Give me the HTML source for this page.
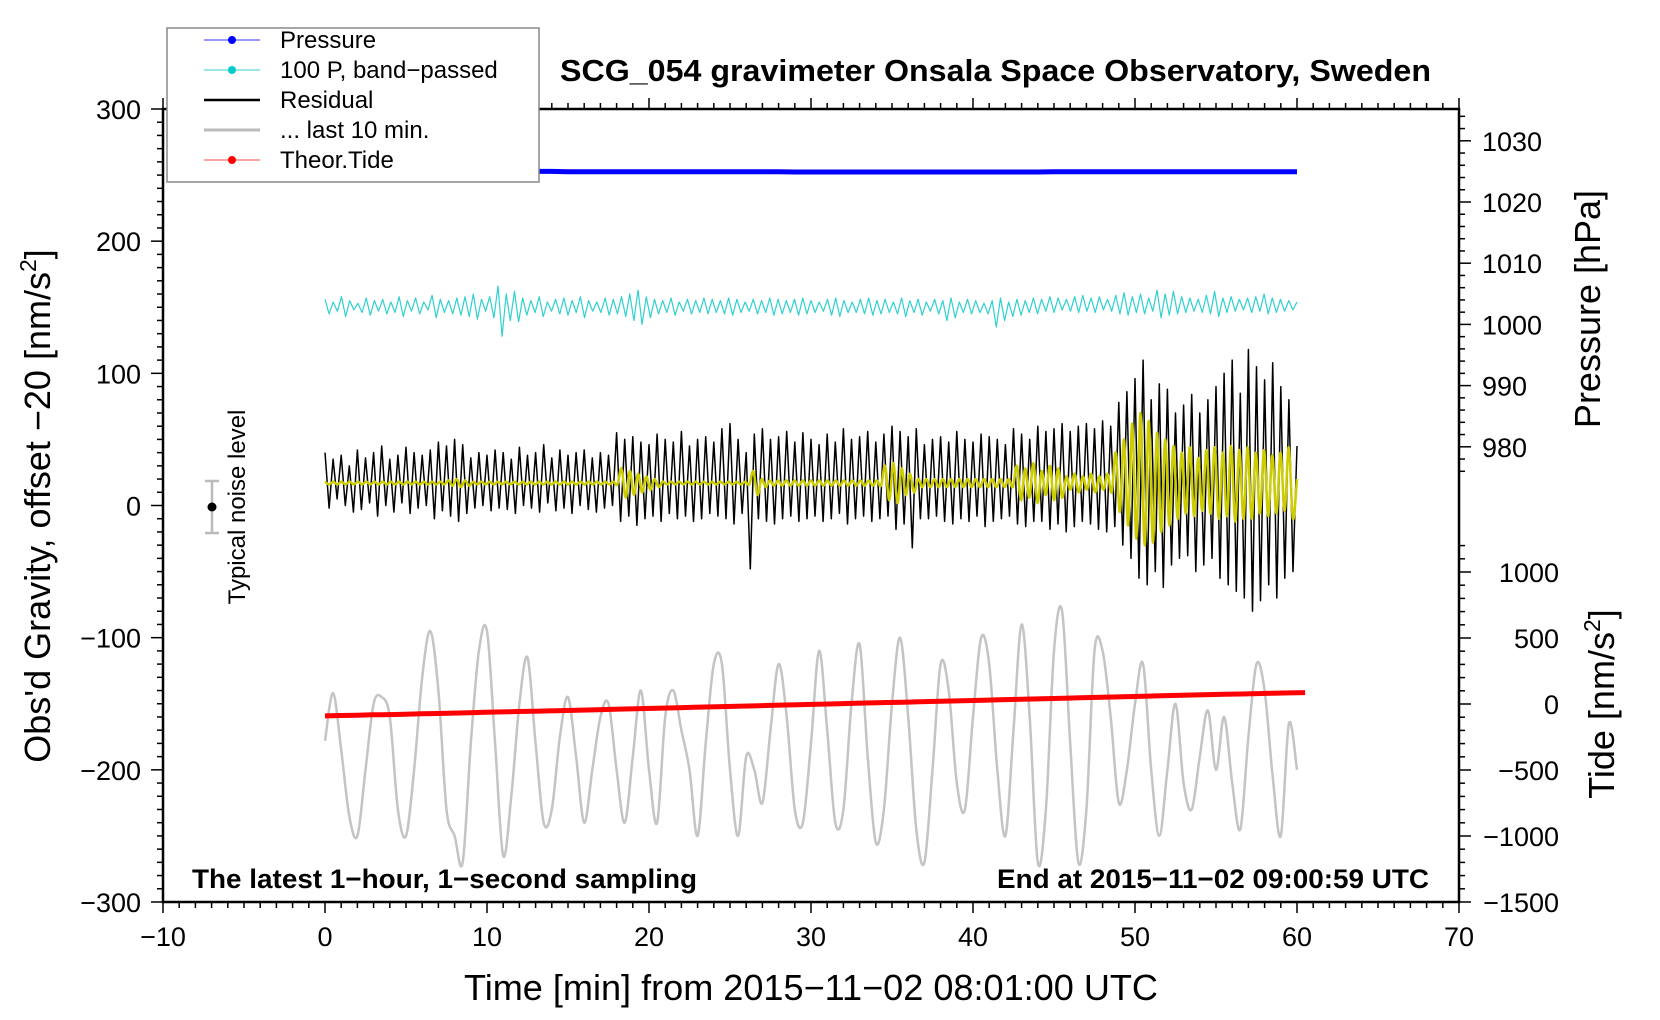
<!DOCTYPE html>
<html><head><meta charset="utf-8"><style>
html,body{margin:0;padding:0;background:#fff;}
svg{display:block;font-family:"Liberation Sans",sans-serif;}
</style></head><body>
<svg id="chart" width="1660" height="1020" viewBox="0 0 1660 1020" xmlns="http://www.w3.org/2000/svg">
<rect x="0" y="0" width="1660" height="1020" fill="#fff"/>
<g id="ticks"></g>
<g id="series"></g>
<rect x="163" y="109" width="1296" height="793" fill="none" stroke="#000" stroke-width="2.5"/>
<text x="560" y="81" font-size="31" font-weight="bold" textLength="871" lengthAdjust="spacingAndGlyphs">SCG_054 gravimeter Onsala Space Observatory, Sweden</text>
<text x="192" y="888" font-size="27" font-weight="bold" textLength="505" lengthAdjust="spacingAndGlyphs">The latest 1−hour, 1−second sampling</text>
<text x="997" y="888" font-size="27" font-weight="bold" textLength="432" lengthAdjust="spacingAndGlyphs">End at 2015−11−02 09:00:59 UTC</text>
<text x="464" y="1000" font-size="36" textLength="694" lengthAdjust="spacingAndGlyphs">Time [min] from 2015−11−02 08:01:00 UTC</text>
<text transform="translate(50,506) rotate(-90)" font-size="36" text-anchor="middle">Obs'd Gravity, offset −20 [nm/s<tspan font-size="23" dy="-14">2</tspan><tspan dy="14">]</tspan></text>
<text transform="translate(1600,309) rotate(-90)" font-size="36" text-anchor="middle">Pressure [hPa]</text>
<text transform="translate(1614,704) rotate(-90)" font-size="36" text-anchor="middle">Tide [nm/s<tspan font-size="23" dy="-14">2</tspan><tspan dy="14">]</tspan></text>
<g>
<line x1="212" y1="481" x2="212" y2="533" stroke="#bbb" stroke-width="2.5"/>
<line x1="205" y1="481" x2="219" y2="481" stroke="#bbb" stroke-width="2.5"/>
<line x1="205" y1="533" x2="219" y2="533" stroke="#bbb" stroke-width="2.5"/>
<circle cx="212" cy="507" r="4.5" fill="#000"/>
<text transform="translate(245,507) rotate(-90)" font-size="24" text-anchor="middle">Typical noise level</text>
</g>
<g>
<rect x="167" y="28" width="372" height="154" fill="#fff" stroke="#888" stroke-width="1.5"/>
<g><line x1="204" y1="40" x2="260" y2="40" stroke="#3333ff" stroke-width="1"/><circle cx="232" cy="40" r="4" fill="#0000ff"/><text x="280" y="48" font-size="24">Pressure</text></g>
<g><line x1="204" y1="70" x2="260" y2="70" stroke="#30d0d0" stroke-width="1"/><circle cx="232" cy="70" r="4" fill="#00cccc"/><text x="280" y="78" font-size="24">100 P, band−passed</text></g>
<g><line x1="204" y1="100" x2="260" y2="100" stroke="#000" stroke-width="2.5"/><text x="280" y="108" font-size="24">Residual</text></g>
<g><line x1="204" y1="130" x2="260" y2="130" stroke="#bbb" stroke-width="3"/><text x="280" y="138" font-size="24">... last 10 min.</text></g>
<g><line x1="204" y1="160" x2="260" y2="160" stroke="#ff4444" stroke-width="1"/><circle cx="232" cy="160" r="4" fill="#ff0000"/><text x="280" y="168" font-size="24">Theor.Tide</text></g>
</g>
</svg>
<script>
const xTicks=[-10,0,10,20,30,40,50,60,70];
const yTicks=[300,200,100,0,-100,-200,-300];
const pTicks=[980,990,1000,1010,1020,1030];
const tTicks=[1000,500,0,-500,-1000,-1500];
const residual=[40,-2,35,5,38,0,30,-5,42,-3,36,2,40,-8,45,0,35,-5,38,2,44,-6,40,-2,38,0,42,-10,48,-4,45,-8,50,-12,46,-6,36,-2,40,0,38,-4,42,-2,40,-3,35,-6,44,0,38,-2,40,-5,46,2,36,-4,42,-2,38,-6,40,0,42,-3,36,-5,40,-2,38,0,55,-12,50,-8,52,-15,48,-10,46,-8,54,-12,50,-6,48,-10,56,-8,45,-12,50,-10,52,-6,48,-8,58,-10,62,-14,50,-6,40,-48,54,-10,58,-12,50,-14,52,-10,56,-8,48,-12,55,-10,50,-8,46,-12,54,-10,48,-6,58,-14,50,-10,52,-8,56,-12,48,-10,54,-8,60,-18,56,-14,52,-32,58,-10,46,-10,50,-8,52,-12,48,-14,56,-10,50,-12,48,-8,54,-16,52,-12,50,-10,46,-8,58,-14,54,-16,50,-12,60,-12,56,-18,58,-14,62,-20,56,-16,60,-12,62,-14,58,-18,64,-20,60,-16,78,-30,86,-40,96,-55,110,-60,80,-50,92,-62,88,-45,70,-40,76,-38,84,-50,70,-45,80,-40,90,-55,100,-60,110,-65,85,-70,118,-80,105,-72,95,-60,108,-70,90,-55,80,-50,45];
const filtered=[18,16,18,16,18,16,18,16,18,16,18,16,18,16,18,16,18,16,18,16,18,16,18,16,18,16,18,16,18,16,19,15,20,14,19,15,18,16,18,16,18,16,18,16,18,16,18,16,18,16,18,16,18,16,18,16,18,16,18,16,18,16,18,16,18,16,18,16,18,16,18,16,28,6,26,8,24,10,22,12,20,14,18,16,18,16,18,16,18,16,18,16,18,16,18,16,18,16,18,16,18,16,18,16,26,8,20,14,19,15,19,15,19,15,19,15,19,15,19,15,19,15,19,15,19,15,19,15,19,15,19,15,19,15,19,15,30,4,32,2,28,8,24,10,20,14,20,14,20,14,20,14,20,14,20,14,20,14,20,14,20,14,20,14,20,14,20,14,30,4,28,6,32,2,26,8,30,4,28,6,22,12,24,10,22,12,24,10,22,12,24,10,40,-5,50,-15,62,-25,70,-30,64,-28,55,-20,50,-15,45,-10,40,-6,44,-8,36,-4,42,-6,44,-10,40,-8,45,-12,42,-10,44,-10,40,-6,42,-8,38,-6,40,-4,44,-10,20];
const bandpassed=[156,145,154,147,158,143,155,148,153,146,157,144,155,147,156,145,154,146,158,143,155,147,157,145,154,148,159,142,156,146,155,145,157,144,158,143,160,141,156,147,158,142,166,128,160,140,162,139,157,144,155,146,158,143,154,147,156,145,157,144,155,146,158,142,155,147,154,146,157,144,156,145,158,143,160,140,163,137,158,142,156,145,155,146,157,144,154,147,156,145,155,146,157,145,156,146,155,145,157,144,156,146,154,147,156,145,155,146,157,144,156,145,155,146,156,144,157,145,155,146,154,147,156,144,157,143,155,146,154,146,156,145,157,144,155,145,156,146,154,145,157,143,155,146,156,144,154,147,156,145,155,140,157,142,154,146,156,145,155,146,153,145,155,135,157,140,154,143,156,144,155,146,157,145,156,147,158,146,157,148,156,147,158,146,159,147,157,146,158,148,156,147,159,145,161,144,158,146,160,145,157,147,163,142,160,144,162,145,158,146,157,147,156,146,159,145,162,143,157,146,158,147,156,148,157,146,158,147,160,145,157,146,156,147,155,148,154];
const last10=[-178,-142,-185,-235,-250,-200,-150,-145,-160,-230,-250,-200,-130,-95,-140,-230,-250,-270,-180,-110,-95,-180,-265,-220,-150,-115,-180,-240,-230,-175,-145,-190,-240,-200,-160,-150,-200,-240,-190,-140,-200,-240,-160,-140,-170,-200,-250,-180,-120,-120,-200,-250,-190,-200,-225,-170,-120,-160,-230,-240,-180,-110,-170,-240,-230,-150,-105,-190,-255,-230,-150,-100,-160,-245,-270,-200,-120,-140,-210,-230,-160,-100,-120,-200,-250,-170,-90,-160,-270,-230,-110,-80,-180,-270,-230,-110,-110,-160,-225,-200,-150,-120,-200,-250,-200,-150,-210,-230,-190,-155,-200,-160,-210,-245,-175,-120,-140,-205,-250,-165,-200];
const pressure=[1025.0,1025.0,1025.0,1025.0,1025.0,1025.0,1025.0,1025.0,1025.0,1025.0,1025.0,1025.0,1025.0,1025.0,1025.0,1024.95,1024.95,1024.95,1024.95,1024.95,1024.95,1024.95,1024.95,1024.95,1024.95,1024.95,1024.95,1024.95,1024.95,1024.9,1024.9,1024.9,1024.9,1024.9,1024.9,1024.9,1024.9,1024.9,1024.9,1024.9,1024.9,1024.9,1024.9,1024.9,1024.9,1024.95,1024.95,1024.95,1024.95,1024.95,1024.95,1024.95,1024.95,1024.95,1024.95,1024.95,1024.95,1024.95,1024.95,1024.95,1024.95];
const tide=[-90,-87,-85,-82,-80,-77,-74,-72,-69,-66,-63,-60,-57,-55,-52,-49,-46,-43,-40,-37,-34,-31,-28,-25,-22,-19,-16,-13,-10,-7,-4,-1,2,5,8,11,14,17,20,23,26,29,32,35,38,41,44,47,50,53,56,59,62,65,68,71,74,76,79,82,84,86];

const NS='http://www.w3.org/2000/svg';
function xs(m){return 163+(m+10)*1296/80;}
function ys(v){return 109+(300-v)*793/600;}
function ps(p){return 140.8+(1030-p)*6.12;}
function ts(t){return 902-(t+1500)*330/2500;}
const tg=document.getElementById('ticks');
const sg=document.getElementById('series');
function ln(x1,y1,x2,y2,w){const l=document.createElementNS(NS,'line');l.setAttribute('x1',x1);l.setAttribute('y1',y1);l.setAttribute('x2',x2);l.setAttribute('y2',y2);l.setAttribute('stroke','#000');l.setAttribute('stroke-width',w||1.5);tg.appendChild(l);return l;}
function tx(x,y,s,anchor){const t=document.createElementNS(NS,'text');t.setAttribute('x',x);t.setAttribute('y',y);t.setAttribute('font-size','27');t.setAttribute('text-anchor',anchor);t.textContent=s;tg.appendChild(t);return t;}
function fmt(v){return v<0?'−'+Math.abs(v):String(v);}
for(let m=-10;m<=70;m++){const major=m%10===0;const L=major?11:6;ln(xs(m),902,xs(m),902+L);ln(xs(m),109,xs(m),109-L);}
xTicks.forEach(v=>{const t=tx(xs(v),946,fmt(v),'middle');

});
for(let v=-300;v<=300;v+=10){const major=v%100===0;ln(163,ys(v),163-(major?12:6),ys(v));}
yTicks.forEach(v=>{const t=tx(141,ys(v)+10,fmt(v),'end');

});
for(let p=976;p<=1036;p+=2){if(ps(p)<110)continue;const major=p%10===0;ln(1459,ps(p),1459+(major?12:6),ps(p));}
pTicks.forEach(v=>{const t=tx(1482,ps(v)+10,String(v),'start');

});
for(let t=-1500;t<=1200;t+=100){const y=ts(t);if(y<455)continue;const major=t%500===0;ln(1459,y,1459+(major?12:6),y);}
tTicks.forEach(v=>{const t=tx(1559,ts(v)+10,fmt(v),'end');

});
function path(vals,step,yf,color,w,name,smooth){
const pts=vals.map((v,i)=>[xs(i*step),yf(v)]);
let d='M'+pts[0][0].toFixed(1)+' '+pts[0][1].toFixed(1);
for(let i=1;i<pts.length;i++){
 if(smooth){const p0=pts[Math.max(0,i-2)],p1=pts[i-1],p2=pts[i],p3=pts[Math.min(pts.length-1,i+1)];
  const c1=[p1[0]+(p2[0]-p0[0])/6,p1[1]+(p2[1]-p0[1])/6],c2=[p2[0]-(p3[0]-p1[0])/6,p2[1]-(p3[1]-p1[1])/6];
  d+='C'+c1[0].toFixed(1)+' '+c1[1].toFixed(1)+' '+c2[0].toFixed(1)+' '+c2[1].toFixed(1)+' '+p2[0].toFixed(1)+' '+p2[1].toFixed(1);}
 else d+='L'+pts[i][0].toFixed(1)+' '+pts[i][1].toFixed(1);}
const p=document.createElementNS(NS,'path');p.setAttribute('d',d);p.setAttribute('fill','none');p.setAttribute('stroke',color);p.setAttribute('stroke-width',w);p.setAttribute('stroke-linejoin','round');


sg.appendChild(p);return p;}
path(last10,60/(last10.length-1),ys,'#c4c4c4',2.5,'last-10-min-line',true);
path(tide,60.5/(tide.length-1),ts,'#ff0000',5,'theoretical-tide-line',false);
path(pressure,60/(pressure.length-1),ps,'#0000ff',5,'pressure-line',false);
path(bandpassed,60/(bandpassed.length-1),ys,'#30d0d0',1.2,'band-passed-pressure-line',false);
path(residual,60/(residual.length-1),ys,'#000',1.5,'residual-line',false);
path(filtered,60/(filtered.length-1),ys,'#cccc00',2.5,'residual-filtered-line',true);
</script>
</body></html>
